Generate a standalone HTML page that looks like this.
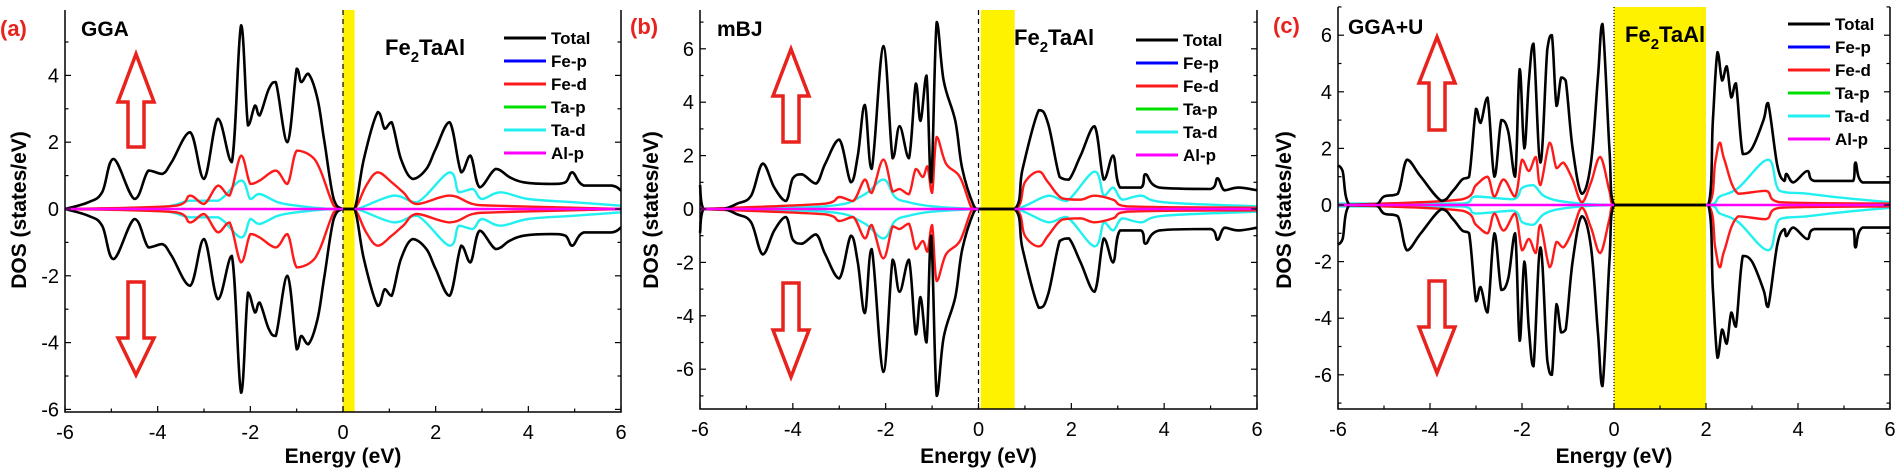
<!DOCTYPE html>
<html><head><meta charset="utf-8"><style>
html,body{margin:0;padding:0;background:#fff;}
svg{display:block;font-family:"Liberation Sans",Arial,sans-serif;}
</style></head><body>
<svg id="s" width="1897" height="474" viewBox="0 0 1897 474" xmlns="http://www.w3.org/2000/svg"></svg>
<script>
const S=document.getElementById('s');let h='';
const P=[
{l:65,r:621,t:10,b:412,z:209,u:33.4,band:[0,0.25],dash:"5,4",lab:"(a)",labx:0,laby:36,m:"GGA",mx:81,my:36,fx:385,fy:55,lx:504,ly:38,ax:136,up:[54,102,147],dn:[282,338,375],ylx:18,
T:[[-6,0],[-5.5,0.2],[-5.2,0.5],[-4.95,1.5],[-4.5,0.3],[-4.2,1.15],[-3.9,1.05],[-3.7,1.4],[-3.3,2.3],[-3,0.9],[-2.7,2.7],[-2.4,1.4],[-2.2,5.5],[-2.05,2.5],[-1.9,3.1],[-1.8,2.8],[-1.6,3.6],[-1.45,3.8],[-1.2,2],[-1.0,4.2],[-0.9,3.8],[-0.75,4.05],[-0.55,3.3],[-0.4,2],[-0.2,0.3],[0,0],[0.25,0],[0.45,1.5],[0.75,2.9],[0.9,2.4],[1.05,2.6],[1.25,1.5],[1.5,0.9],[1.8,1.2],[2.0,1.8],[2.3,2.6],[2.55,1.1],[2.75,1.6],[2.95,0.65],[3.3,1.2],[3.6,0.95],[3.9,0.8],[4.5,0.75],[4.8,0.8],[4.95,1.1],[5.2,0.7],[5.8,0.7],[6,0.55]],
D:[[-6,0],[-3.6,0.1],[-3.3,0.4],[-3,0.15],[-2.7,0.7],[-2.45,0.4],[-2.2,1.6],[-2.0,0.75],[-1.8,0.85],[-1.45,1.15],[-1.2,0.75],[-1.0,1.75],[-0.7,1.6],[-0.5,1.2],[-0.2,0.1],[0,0],[0.25,0],[0.5,0.7],[0.75,1.1],[1.05,0.8],[1.3,0.5],[1.6,0.15],[2.3,0.4],[2.8,0.15],[3.3,0.1],[6,0]],
A:[[-6,0],[-4,0.05],[-3.3,0.25],[-2.7,0.25],[-2.2,0.85],[-2.0,0.3],[-1.8,0.45],[-1.4,0.2],[-1,0.1],[-0.3,0],[0,0],[0.3,0],[1.1,0.4],[1.6,0.2],[2.3,1.1],[2.5,0.5],[2.8,0.6],[3.0,0.3],[3.4,0.5],[4,0.3],[5,0.2],[6,0.1]]},
{l:700,r:1257,t:10,b:409,z:209,u:26.7,band:[0.05,0.78],dash:"5,4",lab:"(b)",labx:630,laby:34,m:"mBJ",mx:717,my:36,fx:1014,fy:45,lx:1136,ly:40,ax:791,up:[49,96,142],dn:[283,330,377],ylx:650,
T:[[-6,0.9],[-5.92,0],[-5.5,0],[-5.2,0.2],[-4.9,0.5],[-4.65,1.7],[-4.4,0.8],[-4.15,0.3],[-4.0,1.15],[-3.8,1.3],[-3.5,0.95],[-3.3,1.7],[-3.0,2.6],[-2.75,1.0],[-2.6,2.0],[-2.45,3.9],[-2.3,1.5],[-2.05,6.1],[-1.85,1.9],[-1.7,3.1],[-1.5,1.9],[-1.35,4.7],[-1.25,3.3],[-1.12,5.0],[-1.02,1.0],[-0.9,7.0],[-0.75,4.8],[-0.5,3.3],[-0.35,1.5],[-0.1,0.1],[0,0],[0.78,0],[0.95,1.5],[1.3,3.7],[1.5,3.2],[1.75,1.2],[1.95,1.1],[2.2,2.0],[2.5,3.1],[2.7,1.1],[2.9,2.0],[3.05,0.8],[3.5,0.8],[3.6,1.3],[3.9,0.8],[5,0.75],[5.15,1.15],[5.3,0.7],[5.6,0.8],[6,0.7]],
D:[[-6,0],[-3.3,0.2],[-3.0,0.45],[-2.7,0.3],[-2.45,1.1],[-2.3,0.6],[-2.05,1.85],[-1.85,0.65],[-1.7,0.75],[-1.5,0.55],[-1.35,1.5],[-1.2,1.2],[-1.1,1.6],[-1.0,0.6],[-0.9,2.7],[-0.7,1.7],[-0.4,1.2],[-0.15,0.05],[0,0],[0.8,0],[1.0,1.0],[1.3,1.4],[1.5,1.0],[1.8,0.4],[2.2,0.35],[2.5,0.5],[2.9,0.35],[3.2,0.1],[6,0.05]],
A:[[-6,0],[-3.3,0.1],[-2.5,0.5],[-2.05,1.1],[-1.8,0.45],[-1.5,0.25],[-1,0.1],[0,0],[0.8,0],[1.5,0.5],[1.9,0.3],[2.5,1.4],[2.7,0.5],[2.9,0.8],[3.1,0.35],[3.5,0.5],[4,0.25],[6,0.1]]},
{l:1338,r:1890,t:7,b:409,z:205,u:28.3,band:[0,2],dash:"1,2",lab:"(c)",labx:1273,laby:33,m:"GGA+U",mx:1348,my:34,fx:1625,fy:42,lx:1788,ly:24,ax:1437,up:[37,83,130],dn:[281,327,373],ylx:1283,
T:[[-6,1.4],[-5.9,1.2],[-5.75,0],[-5.2,0],[-5,0.3],[-4.7,0.4],[-4.5,1.6],[-4.2,1.0],[-3.75,0.15],[-3.5,0.5],[-3.3,0.9],[-3.15,1.0],[-3.0,3.4],[-2.9,2.9],[-2.75,3.8],[-2.6,1.0],[-2.45,3.0],[-2.3,2.6],[-2.15,1.0],[-2.05,4.8],[-1.95,2.0],[-1.85,4.4],[-1.75,5.7],[-1.6,1.5],[-1.45,5.5],[-1.35,6.0],[-1.25,3.5],[-1.15,4.5],[-1.05,4.4],[-0.9,2.0],[-0.7,0.4],[-0.5,1.5],[-0.35,4.5],[-0.25,6.4],[-0.1,2],[0,0],[2.05,0],[2.15,3.0],[2.25,5.4],[2.35,4.4],[2.45,4.9],[2.55,3.8],[2.65,4.3],[2.8,1.8],[3.0,2.0],[3.25,3.0],[3.35,3.6],[3.55,1.4],[3.7,0.85],[3.75,1.1],[3.9,0.8],[4.2,1.2],[4.35,0.85],[5.2,0.85],[5.25,1.5],[5.4,0.8],[6,0.8]],
D:[[-6,0],[-3.3,0.2],[-3.0,0.7],[-2.75,1.0],[-2.6,0.3],[-2.4,0.9],[-2.15,0.3],[-2.0,1.6],[-1.85,1.2],[-1.7,1.7],[-1.6,0.7],[-1.4,2.2],[-1.25,1.3],[-1.1,1.5],[-0.9,0.9],[-0.7,0.1],[-0.5,0.8],[-0.3,1.7],[-0.1,0.5],[0,0],[2.05,0],[2.2,1.5],[2.3,2.2],[2.4,1.6],[2.7,0.4],[3.3,0.5],[3.6,0.1],[6,0.05]],
A:[[-6,0.05],[-3.3,0.05],[-3,0.3],[-2.2,0.2],[-2.0,0.6],[-1.75,0.7],[-1.5,0.3],[-1,0.1],[0,0],[2.05,0],[2.3,0.3],[2.7,0.6],[3.35,1.6],[3.6,0.5],[4.2,0.4],[5,0.25],[6,0.1]]}
];
const cl=(v,a,b)=>Math.min(Math.max(v,Math.min(a,b)),Math.max(a,b));
function path(p,pts,sg){const k=(p.r-p.l)/12;const q=pts.map(a=>[p.l+(a[0]+6)*k,p.z-sg*a[1]*p.u]);
 let d='M'+q[0][0].toFixed(1)+','+q[0][1].toFixed(1);
 for(let i=0;i<q.length-1;i++){const p0=q[Math.max(0,i-1)],p1=q[i],p2=q[i+1],p3=q[Math.min(q.length-1,i+2)];const t=0.18;
  let c1x=p1[0]+(p2[0]-p0[0])*t,c1y=p1[1]+(p2[1]-p0[1])*t,c2x=p2[0]-(p3[0]-p1[0])*t,c2y=p2[1]-(p3[1]-p1[1])*t;
  c1x=cl(c1x,p1[0],p2[0]);c2x=cl(c2x,p1[0],p2[0]);c1y=cl(c1y,p1[1],p2[1]);c2y=cl(c2y,p1[1],p2[1]);
  d+=`C${c1x.toFixed(1)},${c1y.toFixed(1)} ${c2x.toFixed(1)},${c2y.toFixed(1)} ${p2[0].toFixed(1)},${p2[1].toFixed(1)}`;}
 return d;}
for(const p of P){
 const k=(p.r-p.l)/12,X=e=>p.l+(e+6)*k,Y=v=>p.z-v*p.u;
 h+=`<rect x="${X(p.band[0])}" y="${p.t}" width="${X(p.band[1])-X(p.band[0])}" height="${p.b-p.t}" fill="#fff200"/>`;
 h+=`<line x1="${X(0)}" y1="${p.t}" x2="${X(0)}" y2="${p.b}" stroke="#000" stroke-width="1.2" stroke-dasharray="${p.dash}"/>`;
 for(const [key,c,w] of [['A','#22f0f0',2.4],['D','#ff1a1a',2.4],['T','#000',2.6]]){
  h+=`<path d="${path(p,p[key],1)}" fill="none" stroke="${c}" stroke-width="${w}" stroke-linejoin="round"/>`;
  h+=`<path d="${path(p,p[key],-1)}" fill="none" stroke="${c}" stroke-width="${w}" stroke-linejoin="round"/>`;
 }
 h+=`<line x1="${p.l}" y1="${p.z}" x2="${X(0)}" y2="${p.z}" stroke="#ff00ff" stroke-width="2.5"/><line x1="${X(p.band[1])}" y1="${p.z}" x2="${p.r}" y2="${p.z}" stroke="#ff00ff" stroke-width="2.5"/>`;
 h+=`<path d="M${p.l},${p.t}V${p.b}H${p.r}V${p.t}" fill="none" stroke="#000" stroke-width="1.5"/>`;
 for(let e=-6;e<=6;e++){const x=X(e),L=e%2==0?6:3.5;h+=`<line x1="${x}" y1="${p.b}" x2="${x}" y2="${p.b-L}" stroke="#000" stroke-width="1.2"/>`;
  if(e%2==0)h+=`<text x="${x}" y="${p.b+27}" font-size="20" text-anchor="middle">${e}</text>`;}
 for(let v=-7;v<=7;v++){const y=Y(v);if(y<p.t-1||y>p.b+1)continue;const L=v%2==0?6:3.5;
  h+=`<line x1="${p.l}" y1="${y}" x2="${p.l+L}" y2="${y}" stroke="#000" stroke-width="1.2"/><line x1="${p.r}" y1="${y}" x2="${p.r-L}" y2="${y}" stroke="#000" stroke-width="1.2"/>`;
  if(v%2==0)h+=`<text x="${p.l-6}" y="${y+7}" font-size="20" text-anchor="end">${v}</text>`;}
 h+=`<text x="${(p.l+p.r)/2}" y="463" font-size="21" font-weight="bold" text-anchor="middle">Energy (eV)</text>`;
 h+=`<text transform="translate(${p.ylx+8},210) rotate(-90)" font-size="21" font-weight="bold" text-anchor="middle">DOS (states/eV)</text>`;
 h+=`<text x="${p.labx}" y="${p.laby}" font-size="22" font-weight="bold" fill="#e8231d">${p.lab}</text>`;
 h+=`<text x="${p.mx}" y="${p.my}" font-size="21" font-weight="bold">${p.m}</text>`;
 h+=`<text x="${p.fx}" y="${p.fy}" font-size="22" font-weight="bold">Fe<tspan font-size="15" dy="7">2</tspan><tspan dy="-7">TaAl</tspan></text>`;
 const a=p.ax,u=p.up,d=p.dn;
 h+=`<path d="M${a},${u[0]}L${a+18},${u[1]}H${a+8}V${u[2]}H${a-8}V${u[1]}H${a-18}Z" fill="none" stroke="#e8231d" stroke-width="3.5"/>`;
 h+=`<path d="M${a},${d[2]}L${a+18},${d[1]}H${a+8}V${d[0]}H${a-8}V${d[1]}H${a-18}Z" fill="none" stroke="#e8231d" stroke-width="3.5"/>`;
 const lg=[['Total','#000'],['Fe-p','#0000ff'],['Fe-d','#ff1a1a'],['Ta-p','#00e000'],['Ta-d','#22f0f0'],['Al-p','#ff00ff']];
 lg.forEach((g,i)=>{const y=p.ly+i*23;h+=`<line x1="${p.lx}" y1="${y}" x2="${p.lx+42}" y2="${y}" stroke="${g[1]}" stroke-width="3"/><text x="${p.lx+47}" y="${y+6}" font-size="17" font-weight="bold">${g[0]}</text>`;});
}
S.innerHTML=h;
</script>
</body></html>
